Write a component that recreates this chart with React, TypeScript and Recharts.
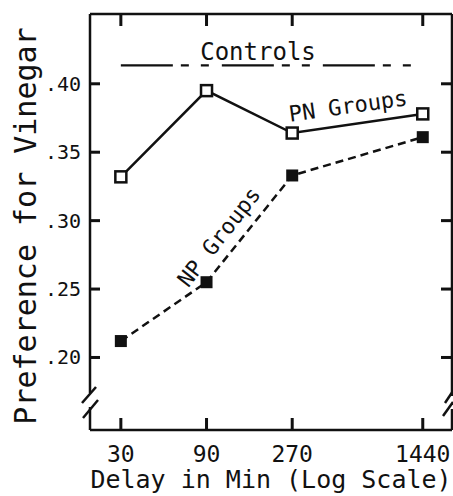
import React from "react";
import { LineChart, Line, XAxis, YAxis } from "recharts";

const delays = [30, 90, 270, 1440];
const pnGroups = [0.332, 0.395, 0.364, 0.378];
const npGroups = [0.212, 0.255, 0.333, 0.361];
const controlsLevel = 0.4135;
const yTicks = [0.2, 0.25, 0.3, 0.35, 0.4];

const data = delays.map((d, i) => ({
  delay: d,
  pn: pnGroups[i],
  np: npGroups[i],
  controls: i === 0 || i === delays.length - 1 ? controlsLevel : null,
}));

const FONT = "'DejaVu Sans Mono', monospace";
const W = 453;
const H = 496;
const X_DOMAIN: [number, number] = [20.2, 2095];
const Y_DOMAIN: [number, number] = [0.147, 0.451];
const INK = "#111";

const OpenSquare = (props: any) => {
  const { cx, cy } = props;
  if (cx == null || cy == null) return null;
  return (
    <rect x={cx - 5.5} y={cy - 5.5} width={11} height={11} fill="#fff" stroke={INK} strokeWidth={2.5} />
  );
};

const FilledSquare = (props: any) => {
  const { cx, cy } = props;
  if (cx == null || cy == null) return null;
  return <rect x={cx - 6} y={cy - 6} width={12} height={12} fill={INK} />;
};

// ticks point into the plot, so the tick renderers draw the marks themselves
const BottomTick = (props: any) => {
  const { x, y, payload } = props;
  return (
    <g>
      <rect x={x - 1.5} y={y - 12} width={3} height={12} fill={INK} />
      <text x={x} y={y + 32} textAnchor="middle" fontFamily={FONT} fontSize={23} fill={INK}>
        {payload.value}
      </text>
    </g>
  );
};

const TopTick = (props: any) => {
  const { x, y } = props;
  return <rect x={x - 1.5} y={y} width={3} height={12} fill={INK} />;
};

const LeftTick = (props: any) => {
  const { x, y, payload } = props;
  return (
    <g>
      <rect x={x} y={y - 1.5} width={10} height={3} fill={INK} />
      <text x={x - 9} y={y} textAnchor="end" dominantBaseline="central" fontFamily={FONT} fontSize={20} fill={INK}>
        {"." + Math.round(payload.value * 100)}
      </text>
    </g>
  );
};

const RightTick = (props: any) => {
  const { x, y } = props;
  return <rect x={x - 11} y={y - 1.5} width={11} height={3} fill={INK} />;
};

const axisStroke = { stroke: INK, strokeWidth: 2.5 };

export default function App() {
  return (
    <div style={{ position: "absolute", left: 0, top: 0, width: W, height: H, background: "#fff" }}>
      <LineChart width={W} height={H} data={data} margin={{ top: 13, right: 0, bottom: 0, left: 0 }}>
        <XAxis
          dataKey="delay"
          type="number"
          scale="log"
          domain={X_DOMAIN}
          allowDataOverflow
          ticks={delays}
          height={66}
          axisLine={axisStroke}
          tickLine={false}
          tickSize={0}
          tickMargin={0}
          tick={<BottomTick />}
          label={{
            value: "Delay in Min (Log Scale)",
            position: "insideBottom",
            offset: 8,
            style: { fontFamily: FONT, fontSize: 25, fill: INK },
          }}
        />
        <XAxis
          xAxisId="top"
          dataKey="delay"
          orientation="top"
          type="number"
          scale="log"
          domain={X_DOMAIN}
          allowDataOverflow
          ticks={delays}
          height={1}
          axisLine={axisStroke}
          tickLine={false}
          tickSize={0}
          tickMargin={0}
          tick={<TopTick />}
        />
        <YAxis
          type="number"
          domain={Y_DOMAIN}
          allowDataOverflow
          ticks={yTicks}
          width={90}
          axisLine={axisStroke}
          tickLine={false}
          tickSize={0}
          tickMargin={0}
          tick={<LeftTick />}
        />
        <YAxis
          yAxisId="right"
          orientation="right"
          type="number"
          domain={Y_DOMAIN}
          allowDataOverflow
          ticks={yTicks}
          width={1}
          axisLine={axisStroke}
          tickLine={false}
          tickSize={0}
          tickMargin={0}
          tick={<RightTick />}
        />
        <Line
          dataKey="controls"
          stroke={INK}
          strokeWidth={2.2}
          strokeDasharray="52 8 8 12 8 13"
          dot={false}
          connectNulls
          isAnimationActive={false}
        />
        <Line
          dataKey="np"
          stroke={INK}
          strokeWidth={2.5}
          strokeDasharray="8 5"
          dot={<FilledSquare />}
          isAnimationActive={false}
        />
        <Line
          dataKey="pn"
          stroke={INK}
          strokeWidth={2.5}
          dot={<OpenSquare />}
          isAnimationActive={false}
        />
      </LineChart>
      <svg
        width={W}
        height={H}
        style={{ position: "absolute", left: 0, top: 0, pointerEvents: "none" }}
      >
        {/* axis breaks */}
        <rect x={86} y={393} width={10} height={14} fill="#fff" />
        <line x1={82} y1={403} x2={96} y2={387} stroke={INK} strokeWidth={2.5} />
        <line x1={83} y1={418} x2={98} y2={400} stroke={INK} strokeWidth={2.5} />
        <rect x={448} y={396} width={6} height={13} fill="#fff" />
        <line x1={445} y1={403} x2={453} y2={391} stroke={INK} strokeWidth={2.5} />
        <line x1={443} y1={416} x2={453} y2={402} stroke={INK} strokeWidth={2.5} />
        <text
          x={25}
          y={226}
          transform="rotate(-90 25 226)"
          textAnchor="middle"
          dominantBaseline="central"
          fontFamily={FONT}
          fontSize={30}
          fill={INK}
        >
          Preference for Vinegar
        </text>
        <text x={258} y={60} textAnchor="middle" fontFamily={FONT} fontSize={24} fill={INK}>
          Controls
        </text>
        <text
          x={348}
          y={106}
          transform="rotate(-8 348 106)"
          textAnchor="middle"
          dominantBaseline="central"
          fontFamily={FONT}
          fontSize={22}
          fill={INK}
        >
          PN Groups
        </text>
        <text
          x={219}
          y={237}
          transform="rotate(-52 219 237)"
          textAnchor="middle"
          dominantBaseline="central"
          fontFamily={FONT}
          fontSize={22}
          fill={INK}
        >
          NP Groups
        </text>
      </svg>
    </div>
  );
}
